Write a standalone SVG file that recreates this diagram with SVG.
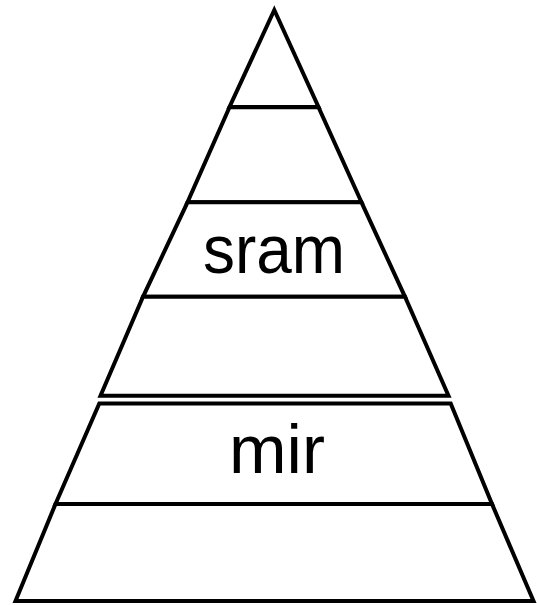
<svg xmlns="http://www.w3.org/2000/svg" width="537" height="605" viewBox="0 0 537 605">
<style>
.layer{fill:#fff;stroke:#000;stroke-width:4;stroke-linejoin:miter}
.lbl{font-family:"Liberation Sans",Arial,sans-serif;font-size:68px;fill:#000;text-anchor:middle}
</style>
<rect width="537" height="605" fill="#fff"/>
<g id="layer1"><polygon class="layer" points="274.3,10 318.5,107 229.5,107"/></g>
<g id="layer2"><polygon class="layer" points="229.5,107.3 318.5,107.3 361.5,202.3 187.5,202.3"/></g>
<g id="layer3"><polygon class="layer" points="187.5,202.3 361.5,202.3 405,296.8 143,296.8"/><text class="lbl" x="274" y="273" textLength="142" lengthAdjust="spacingAndGlyphs">sram</text></g>
<g id="layer4"><polygon class="layer" points="143,296.8 405,296.8 448.5,395.8 100.5,395.8"/></g>
<g id="layer5"><polygon class="layer" points="99.3,403.5 450.7,403.5 492,504 55.5,504"/><text class="lbl" x="277" y="473" textLength="96" lengthAdjust="spacingAndGlyphs">mir</text></g>
<g id="layer6"><polygon class="layer" points="55.5,504 492,504 533.5,601 15.5,601"/></g>
</svg>
